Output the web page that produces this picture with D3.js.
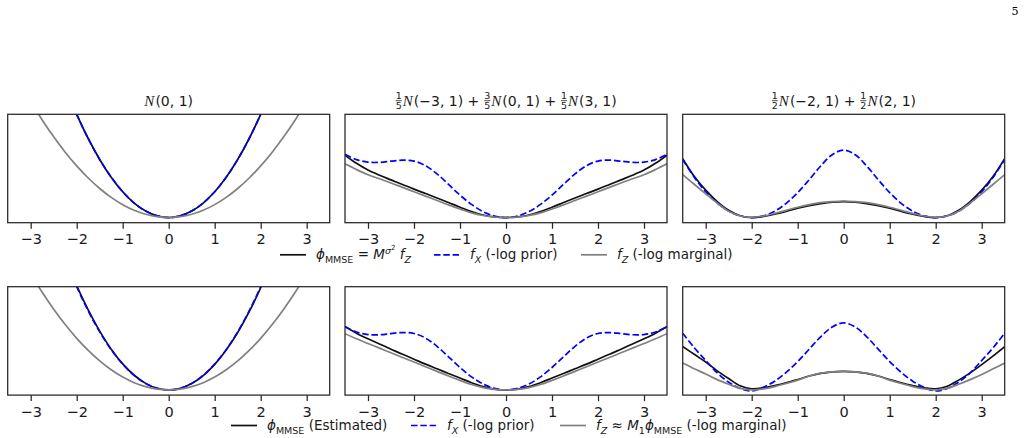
<!DOCTYPE html>
<html lang="en">
<head>
<meta charset="UTF-8">
<title>MMSE regularizers</title>
<script src="https://d3js.org/d3.v7.min.js"></script>
<style>
  body { margin: 0; background: #fff; }
  svg { font-family: "DejaVu Sans", sans-serif; }
  .tick line { stroke: #262626; stroke-width: 1.25; }
</style>
</head>
<body>
<svg id="fig" width="1026" height="438"></svg>
<script>
// x grid shared by every curve
const xs = [-3.5, -3.25, -3, -2.75, -2.5, -2.25, -2, -1.75, -1.5, -1.25, -1, -0.75, -0.5, -0.25, 0,
            0.25, 0.5, 0.75, 1, 1.25, 1.5, 1.75, 2, 2.25, 2.5, 2.75, 3, 3.25, 3.5];
const xTicks = [-3, -2, -1, 0, 1, 2, 3];

// N(0,1)
const gaussPrior = [6.125, 5.281, 4.5, 3.781, 3.125, 2.531, 2.0, 1.531, 1.125, 0.781, 0.5, 0.281, 0.125, 0.031, 0,
                    0.031, 0.125, 0.281, 0.5, 0.781, 1.125, 1.531, 2.0, 2.531, 3.125, 3.781, 4.5, 5.281, 6.125];
const gaussMmse = [6.125, 5.281, 4.5, 3.781, 3.125, 2.531, 2.0, 1.531, 1.125, 0.781, 0.5, 0.281, 0.125, 0.031, 0,
                   0.031, 0.125, 0.281, 0.5, 0.781, 1.125, 1.531, 2.0, 2.531, 3.125, 3.781, 4.5, 5.281, 6.125];
const gaussMarg = [3.063, 2.641, 2.25, 1.891, 1.563, 1.266, 1.0, 0.766, 0.563, 0.391, 0.25, 0.141, 0.063, 0.016, 0,
                   0.016, 0.063, 0.141, 0.25, 0.391, 0.563, 0.766, 1.0, 1.266, 1.563, 1.891, 2.25, 2.641, 3.063];
const gaussEst = [6.2, 5.35, 4.56, 3.83, 3.16, 2.56, 2.02, 1.55, 1.14, 0.79, 0.505, 0.285, 0.127, 0.032, 0,
                  0.03, 0.123, 0.277, 0.494, 0.772, 1.112, 1.515, 1.98, 2.51, 3.1, 3.75, 4.46, 5.24, 6.08];
const gaussEstMarg = [3.063, 2.641, 2.25, 1.891, 1.563, 1.266, 1.0, 0.766, 0.563, 0.391, 0.25, 0.141, 0.063, 0.016, 0,
                      0.016, 0.063, 0.141, 0.25, 0.391, 0.563, 0.766, 1.0, 1.266, 1.563, 1.891, 2.25, 2.641, 3.063];

// 1/5 N(-3,1) + 3/5 N(0,1) + 1/5 N(3,1)
const triPrior = [1.224, 1.122, 1.073, 1.069, 1.092, 1.112, 1.094, 1.005, 0.845, 0.642, 0.435, 0.254, 0.115, 0.029, 0,
                  0.029, 0.115, 0.254, 0.435, 0.642, 0.845, 1.005, 1.094, 1.112, 1.092, 1.069, 1.073, 1.122, 1.224];
const triMmse = [1.21, 1.05, 0.92, 0.82, 0.73, 0.64, 0.55, 0.465, 0.38, 0.29, 0.2, 0.115, 0.05, 0.012, 0,
                 0.012, 0.05, 0.115, 0.2, 0.29, 0.38, 0.465, 0.55, 0.64, 0.73, 0.82, 0.92, 1.05, 1.21];
const triMarg = [1.04, 0.93, 0.83, 0.75, 0.67, 0.585, 0.5, 0.415, 0.33, 0.245, 0.165, 0.09, 0.04, 0.01, 0,
                 0.01, 0.04, 0.09, 0.165, 0.245, 0.33, 0.415, 0.5, 0.585, 0.67, 0.75, 0.83, 0.93, 1.04];
const triEst = [1.23, 1.1, 0.99, 0.89, 0.79, 0.69, 0.595, 0.5, 0.41, 0.32, 0.23, 0.14, 0.065, 0.017, 0,
                0.017, 0.065, 0.14, 0.23, 0.32, 0.41, 0.5, 0.595, 0.69, 0.79, 0.89, 0.99, 1.1, 1.23];
const triEstMarg = [1.09, 0.99, 0.9, 0.81, 0.72, 0.63, 0.54, 0.45, 0.36, 0.27, 0.185, 0.105, 0.045, 0.012, 0,
                    0.012, 0.045, 0.105, 0.185, 0.27, 0.36, 0.45, 0.54, 0.63, 0.72, 0.81, 0.9, 0.99, 1.09];

// 1/2 N(-2,1) + 1/2 N(2,1)
const biPrior = [1.125, 0.782, 0.5, 0.282, 0.125, 0.031, 0, 0.031, 0.123, 0.275, 0.482, 0.733, 0.998, 1.218, 1.307,
                 1.218, 0.998, 0.733, 0.482, 0.275, 0.123, 0.031, 0, 0.031, 0.125, 0.282, 0.5, 0.782, 1.125];
const biMmse = [1.14, 0.8, 0.53, 0.31, 0.14, 0.035, 0, 0.02, 0.065, 0.12, 0.18, 0.23, 0.27, 0.3, 0.31,
                0.3, 0.27, 0.23, 0.18, 0.12, 0.065, 0.02, 0, 0.035, 0.14, 0.31, 0.53, 0.8, 1.14];
const biMarg = [0.83, 0.645, 0.46, 0.28, 0.12, 0.03, 0.005, 0.03, 0.08, 0.14, 0.2, 0.25, 0.29, 0.31, 0.32,
                0.31, 0.29, 0.25, 0.2, 0.14, 0.08, 0.03, 0.005, 0.03, 0.12, 0.28, 0.46, 0.645, 0.83];
const biPriorB = [1.1, 0.82, 0.57, 0.33, 0.15, 0.03, -0.02, 0.05, 0.17, 0.34, 0.55, 0.79, 1.03, 1.22, 1.3,
                  1.22, 1.03, 0.79, 0.55, 0.34, 0.17, 0.05, -0.02, 0.03, 0.15, 0.33, 0.57, 0.82, 1.1];
const biEst = [0.84, 0.69, 0.54, 0.37, 0.22, 0.08, 0.02, 0.04, 0.085, 0.14, 0.2, 0.27, 0.32, 0.35, 0.36,
               0.35, 0.32, 0.27, 0.2, 0.14, 0.085, 0.04, 0.02, 0.07, 0.19, 0.33, 0.49, 0.66, 0.84];
const biEstMarg = [0.52, 0.41, 0.31, 0.2, 0.11, 0.03, 0, 0.02, 0.065, 0.125, 0.19, 0.27, 0.325, 0.35, 0.36,
                   0.35, 0.325, 0.27, 0.19, 0.125, 0.065, 0.02, 0, 0.03, 0.11, 0.2, 0.3, 0.41, 0.52];

const panels = [
  {row: 0, col: 0, mmse: gaussMmse, prior: gaussPrior, marg: gaussMarg},
  {row: 0, col: 1, mmse: triMmse,   prior: triPrior,   marg: triMarg},
  {row: 0, col: 2, mmse: biMmse,    prior: biPrior,    marg: biMarg},
  {row: 1, col: 0, mmse: gaussEst,  prior: gaussPrior, marg: gaussEstMarg},
  {row: 1, col: 1, mmse: triEst,    prior: triPrior,   marg: triEstMarg},
  {row: 1, col: 2, mmse: biEst,     prior: biPriorB,   marg: biEstMarg}
];

const colLeft = [7.7, 345, 682.7];
const panelW = 322;
const rowTop = [114.3, 286.7];
const panelH = 108.4;

const svg = d3.select("#fig");

const line = (x, y) => d3.line()
  .x((d, i) => x(xs[i]))
  .y(d => y(d))
  .curve(d3.curveCatmullRom);

panels.forEach((p, k) => {
  const left = colLeft[p.col], top = rowTop[p.row];
  const x = d3.scaleLinear().domain([-3.5, 3.5]).range([0, panelW]);
  const y = d3.scaleLinear().domain([-0.1, 2.0]).range([panelH, 0]);
  const g = svg.append("g").attr("transform", `translate(${left},${top})`);

  g.append("clipPath").attr("id", "clip" + k)
    .append("rect").attr("width", panelW).attr("height", panelH);
  const plot = g.append("g").attr("clip-path", `url(#clip${k})`);

  plot.append("path").attr("d", line(x, y)(p.mmse))
    .attr("fill", "none").attr("stroke", "#111").attr("stroke-width", 1.7);
  plot.append("path").attr("d", line(x, y)(p.prior))
    .attr("fill", "none").attr("stroke", "#0000ff").attr("stroke-width", 1.7)
    .attr("stroke-dasharray", "6.5,2.8");
  plot.append("path").attr("d", line(x, y)(p.marg))
    .attr("fill", "none").attr("stroke", "#808080").attr("stroke-width", 1.7);

  const ax = g.append("g").attr("transform", `translate(0,${panelH})`)
    .call(d3.axisBottom(x).tickValues(xTicks).tickSize(6).tickSizeOuter(0)
      .tickFormat(d => d < 0 ? "\u2212" + Math.abs(d) : d))
    .attr("font-family", "DejaVu Sans, sans-serif").attr("font-size", 14.5);
  ax.select(".domain").remove();
  ax.selectAll(".tick text").attr("y", 11.5).attr("fill", "#1a1a1a");

  g.append("rect").attr("width", panelW).attr("height", panelH)
    .attr("fill", "none").attr("stroke", "#262626").attr("stroke-width", 1.25);
});

// titles with stacked fractions
function mathTitle(parts, cx, base) {
  const grp = svg.append("g");
  let x = 0;
  parts.forEach(p => {
    if (p.frac) {
      const w = 7;
      grp.append("text").attr("x", x + w / 2).attr("y", base - 6.5).attr("text-anchor", "middle")
        .attr("font-size", 9.5).attr("fill", "#1a1a1a").text(p.frac[0]);
      grp.append("text").attr("x", x + w / 2).attr("y", base + 3.6).attr("text-anchor", "middle")
        .attr("font-size", 9.5).attr("fill", "#1a1a1a").text(p.frac[1]);
      grp.append("line").attr("x1", x + 0.5).attr("x2", x + w - 0.5)
        .attr("y1", base - 5).attr("y2", base - 5).attr("stroke", "#1a1a1a").attr("stroke-width", 0.8);
      x += w + 0.5;
    } else {
      const t = grp.append("text").attr("x", x).attr("y", base)
        .attr("font-size", 14).attr("fill", "#1a1a1a").text(p.t);
      if (p.cal) t.attr("font-family", "Liberation Serif, DejaVu Serif, serif").attr("font-style", "italic").attr("font-size", 15);
      x += t.node().getComputedTextLength() + (p.cal ? 1 : 0);
    }
  });
  grp.attr("transform", `translate(${cx - x / 2},0)`);
}

const N = {t: "N", cal: true};
const sp = "\u00A0";
const titleParts = [
  [N, {t: "(0, 1)"}],
  [{frac: ["1", "5"]}, N, {t: "(\u22123, 1)" + sp + "+" + sp}, {frac: ["3", "5"]}, N, {t: "(0, 1)" + sp + "+" + sp},
   {frac: ["1", "5"]}, N, {t: "(3, 1)"}],
  [{frac: ["1", "2"]}, N, {t: "(\u22122, 1)" + sp + "+" + sp}, {frac: ["1", "2"]}, N, {t: "(2, 1)"}]
];
titleParts.forEach((tp, i) => mathTitle(tp, colLeft[i] + panelW / 2, 105.7));

// rich legend labels
function rich(sel, parts) {
  let shift = 0;
  parts.forEach(p => {
    const target = p.s === "sub" ? 3.5 : p.s === "sup" ? -5.5 : p.s === "supsup" ? -9 : 0;
    const t = sel.append("tspan").text(p.t).attr("dy", target - shift);
    shift = target;
    if (p.i) t.attr("font-style", "italic");
    if (p.s) t.attr("font-size", p.s === "supsup" ? 7 : 9.5);
  });
}

function legend(items, yLine) {
  items.forEach(it => {
    const l = svg.append("line").attr("x1", it.x).attr("x2", it.x + 26)
      .attr("y1", yLine).attr("y2", yLine).attr("stroke", it.color).attr("stroke-width", 1.7);
    if (it.dash) l.attr("stroke-dasharray", "6.5,2.8");
    const t = svg.append("text").attr("x", it.x + 36).attr("y", yLine + 4.5)
      .attr("font-size", 13.5).attr("fill", "#1a1a1a").style("white-space", "pre");
    rich(t, it.parts);
  });
}

const phi = "\u03D5";
legend([
  {x: 280, color: "#111", parts: [{t: phi, i: true}, {t: "MMSE", s: "sub"}, {t: " = "}, {t: "M", i: true},
    {t: "\u03C3", i: true, s: "sup"}, {t: "2", s: "supsup"}, {t: " "}, {t: "f", i: true}, {t: "Z", i: true, s: "sub"}]},
  {x: 434, color: "#0000ff", dash: true, parts: [{t: "f", i: true}, {t: "X", i: true, s: "sub"}, {t: " (-log prior)"}]},
  {x: 581, color: "#808080", parts: [{t: "f", i: true}, {t: "Z", i: true, s: "sub"}, {t: " (-log marginal)"}]}
], 254.8);

legend([
  {x: 231, color: "#111", parts: [{t: phi, i: true}, {t: "MMSE", s: "sub"}, {t: " (Estimated)"}]},
  {x: 411, color: "#0000ff", dash: true, parts: [{t: "f", i: true}, {t: "X", i: true, s: "sub"}, {t: " (-log prior)"}]},
  {x: 560, color: "#808080", parts: [{t: "f", i: true}, {t: "Z", i: true, s: "sub"}, {t: " \u2248 "}, {t: "M", i: true},
    {t: "1", s: "sub"}, {t: phi, i: true}, {t: "MMSE", s: "sub"}, {t: " (-log marginal)"}]}
], 425.5);

// page number
svg.append("text").attr("x", 1015).attr("y", 15).attr("text-anchor", "middle")
  .attr("font-family", "DejaVu Serif, serif").attr("font-size", 11).text("5");
</script>
</body>
</html>
